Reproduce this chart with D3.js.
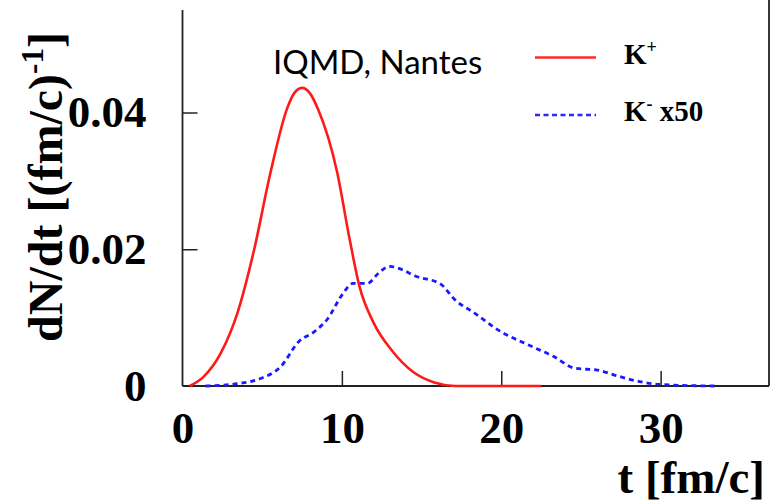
<!DOCTYPE html>
<html><head><meta charset="utf-8">
<script src="https://cdn.jsdelivr.net/npm/d3@7"></script>
<style>html,body{margin:0;padding:0;background:#fff;overflow:hidden}</style>
</head><body>
<svg id="c" width="773" height="502"></svg>
<script>
// ---- data ----
const kPlusT = [0.45,1.3,2.4,3.45,4.5,5.5,6.55,7.0,7.5,8.0,8.5,9.7,10.5,11.1,12.0,13.1,14.5,15.8,17.1,22.5];
const kPlusV = [0,0.0013,0.0048,0.0107,0.0200,0.0310,0.0405,0.0428,0.0436,0.0428,0.0405,0.0313,0.0213,0.0146,0.0092,0.0053,0.0020,0.0005,0,0];
const kMinusT = [1.45,3.65,4.9,6.15,7.3,8.3,9.1,10.0,10.7,11.6,12.3,12.97,13.8,14.6,16.2,17.1,18.3,19.8,21.9,23.3,24.6,26.1,27.1,28.8,30.1,33.4];
const kMinusV = [0,0.0004,0.0011,0.0028,0.0065,0.0080,0.0098,0.0133,0.0150,0.0150,0.0165,0.0175,0.0170,0.0161,0.0149,0.0126,0.0107,0.0082,0.0058,0.0043,0.0026,0.0023,0.0016,0.0006,0.0002,0];
const xTicks = [0,10,20,30];
const yTicks = [0,0.02,0.04];
const yTickLabels = ["0","0.02","0.04"];
const seriesNames = ["K", "K"];
const seriesSup = ["+", "-"];
const seriesSuffix = ["", " x50"];
const annotation = "IQMD, Nantes";

const svg = d3.select("#c");
const X0 = 182.5, X1 = 769, Y0 = 386, Y1 = 12;
const x = d3.scaleLinear().domain([0, 36.8]).range([X0, X1]);
const y = d3.scaleLinear().domain([0, 0.0547]).range([Y0, Y1]);
const serif = "'Liberation Serif','Times New Roman',serif";

// axes
const xa = svg.append("g").attr("transform", `translate(0,${Y0})`)
  .call(d3.axisBottom(x).tickValues(xTicks).tickSize(-15).tickPadding(25).tickSizeOuter(0).tickFormat(d3.format("d")));
const ya = svg.append("g").attr("transform", `translate(${X0},0)`)
  .call(d3.axisLeft(y).tickValues(yTicks).tickSize(-15).tickPadding(36).tickSizeOuter(0).tickFormat((d,i)=>yTickLabels[i]));
[xa, ya].forEach(g => {
  g.select(".domain").remove();
  g.selectAll("line").attr("stroke", "#222").attr("stroke-width", 1.5);
  g.selectAll("text").attr("font-family", serif).attr("font-weight", "bold").attr("font-size", 45).attr("fill", "#000");
});
xa.selectAll(".tick").filter(d => d === 0).select("line").remove();
ya.selectAll(".tick").filter(d => d === 0).select("line").remove();

// frame lines
svg.append("line").attr("x1", X0).attr("x2", X0).attr("y1", 10).attr("y2", Y0).attr("stroke", "#222").attr("stroke-width", 1.8);
svg.append("line").attr("x1", X0).attr("x2", X1).attr("y1", Y0).attr("y2", Y0).attr("stroke", "#222").attr("stroke-width", 1.8);
svg.append("line").attr("x1", X1).attr("x2", X1).attr("y1", 0).attr("y2", Y0).attr("stroke", "#222").attr("stroke-width", 1.8);

// curves
const line = d3.line().x(d => x(d[0])).y(d => y(d[1])).curve(d3.curveMonotoneX);
svg.append("path").datum(kMinusT.map((t,i)=>[t,kMinusV[i]]))
  .attr("d", line).attr("fill", "none").attr("stroke", "#1a1aff").attr("stroke-width", 2.8).attr("stroke-dasharray", "5,4");
svg.append("path").datum(kPlusT.map((t,i)=>[t,kPlusV[i]]))
  .attr("d", line).attr("fill", "none").attr("stroke", "#ff1a1a").attr("stroke-width", 2.6);

// legend
const legColors = ["#ff2a2a", "#2a2aff"];
const legDash = [null, "5,3.5"];
const legY = [57.5, 115];
const legBase = [63.5, 120.5];
seriesNames.forEach((n, i) => {
  svg.append("line").attr("x1", 535).attr("x2", 596).attr("y1", legY[i]).attr("y2", legY[i])
    .attr("stroke", legColors[i]).attr("stroke-width", 2.4).attr("stroke-dasharray", legDash[i]);
  const t = svg.append("text").attr("x", 624).attr("y", legBase[i])
    .attr("font-family", serif).attr("font-weight", "bold").attr("font-size", 29).attr("fill", "#000");
  t.append("tspan").text(n);
  t.append("tspan").attr("dy", -11).attr("font-size", 18).text(seriesSup[i]);
  if (seriesSuffix[i]) t.append("tspan").attr("dy", 11).text(seriesSuffix[i]);
});

// annotation
svg.append("text").attr("x", 273).attr("y", 73.5).attr("font-family", "Lato, 'Liberation Sans', sans-serif")
  .attr("font-size", 33).attr("fill", "#000").text(annotation);

// axis titles
svg.append("text").attr("x", 765).attr("y", 493).attr("text-anchor", "end")
  .attr("font-family", serif).attr("font-weight", "bold").attr("font-size", 47).attr("fill", "#000").text("t [fm/c]");
const yt = svg.append("text").attr("transform", "translate(62,187) rotate(-90)").attr("text-anchor", "middle")
  .attr("font-family", serif).attr("font-weight", "bold").attr("font-size", 48).attr("fill", "#000");
yt.append("tspan").text("dN/dt [(fm/c)");
yt.append("tspan").attr("dy", -19).attr("font-size", 31).text("-1");
yt.append("tspan").attr("dy", 19).text("]");
</script>
</body></html>
